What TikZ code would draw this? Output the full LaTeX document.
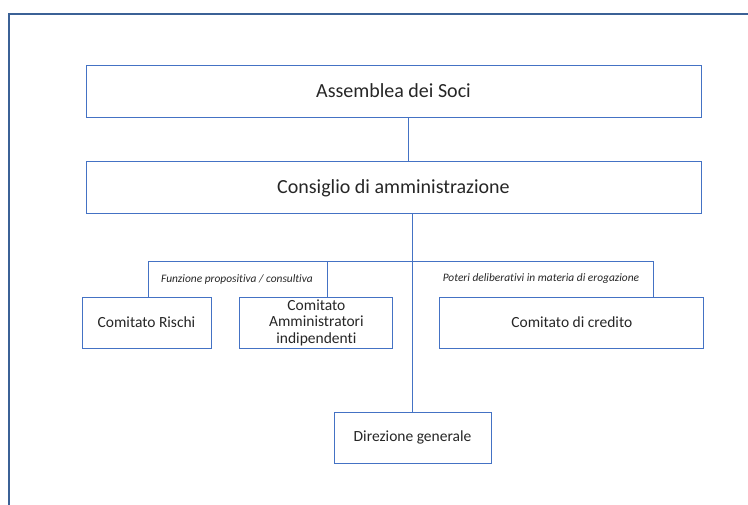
\documentclass[tikz,border=0pt]{standalone}
\usepackage{fontspec}
\setmainfont{Carlito}[Ligatures=NoCommon]
\usetikzlibrary{positioning,calc}
\definecolor{frameblue}{RGB}{59,97,150}
\definecolor{boxblue}{RGB}{68,114,196}
\definecolor{inktext}{RGB}{38,38,38}

\begin{document}
\begin{tikzpicture}[x=1pt, y=-1pt,
		bigbox/.style={rectangle, draw=boxblue, line width=0.9pt, minimum width=615pt, minimum height=52pt, text=inktext, font=\fontsize{20}{24}\selectfont},
		smallbox/.style={rectangle, draw=boxblue, line width=0.9pt, minimum height=51pt, inner sep=0pt, align=center, text=inktext, font=\fontsize{15.5}{16.5}\selectfont},
		note/.style={rectangle, inner sep=1pt, text=inktext, font=\fontsize{11.4}{13}\selectfont\itshape},
		conn/.style={draw=boxblue, line width=0.9pt},
		frame/.style={draw=frameblue, line width=2.6pt}
	]
	\useasboundingbox (0,0) rectangle (748,505);
	\draw[frame] (9,505) -- (9,14) -- (748,14);
	\node[bigbox] (assemblea) at (393.5,91) {Assemblea dei Soci};
	\node[bigbox] (consiglio) [below=44pt of assemblea] {Consiglio di amministrazione};
	\node[smallbox, minimum width=129pt] (rischi) at (146.5,322.5) {Comitato Rischi};
	\node[smallbox, minimum width=153pt] (amministratori) [right=28pt of rischi] {Comitato\\Amministratori\\indipendenti};
	\node[smallbox, minimum width=264pt] (credito) [right=46pt of amministratori] {Comitato di credito};
	\node[smallbox, minimum width=157pt] (direzione) at (412.5,437.5) {Direzione generale};
	\node[note] (funzione) at (237,279) {Funzione propositiva / consultiva};
	\node[note] (poteri) at (541,279) {Poteri deliberativi in materia di erogazione};
	% collegamenti
	\draw[conn] ([xshift=14.5pt]assemblea.south) -- ([xshift=14.5pt]consiglio.north);
	\draw[conn] (direzione.north) -- (direzione.north |- consiglio.south);
	\draw[conn] ([xshift=1.5pt]rischi.north) -- ++(0,-35) -| ([xshift=82pt]credito.north);
	\draw[conn] ([xshift=11.5pt]amministratori.north) -- ++(0,-35);
\end{tikzpicture}
\end{document}
